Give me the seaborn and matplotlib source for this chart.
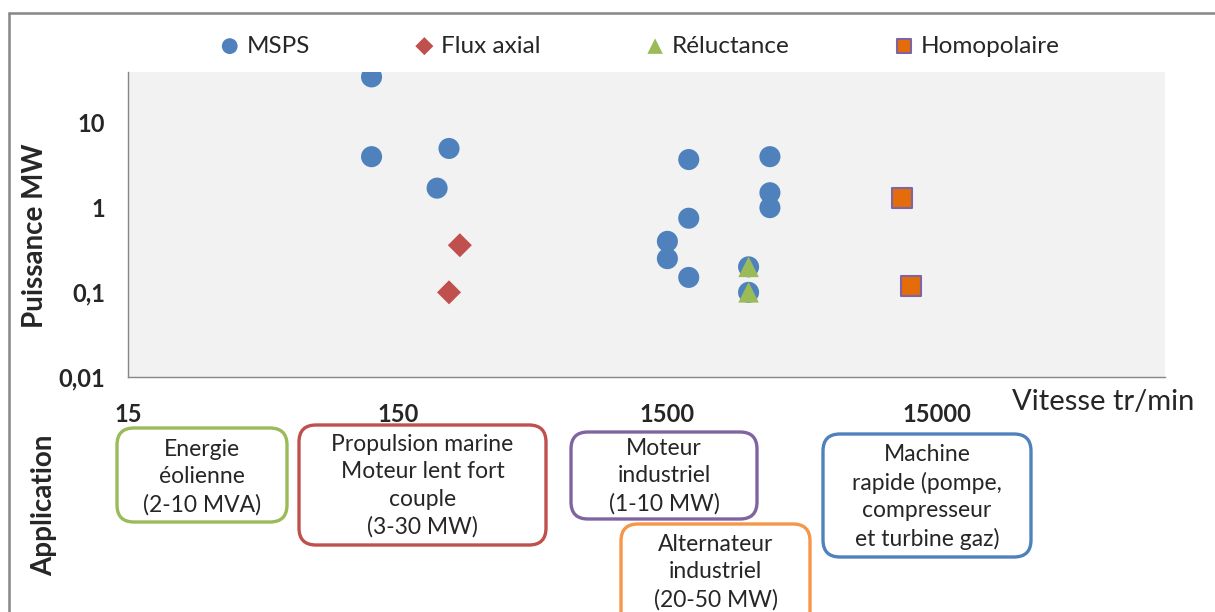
import matplotlib.pyplot as plt
import matplotlib.ticker as mticker
from matplotlib.patches import FancyBboxPatch
from matplotlib.lines import Line2D
import seaborn as sns

# Valeurs (vitesse tr/min, puissance MW)
msps_v = [80, 80, 155, 140, 1200, 1200, 1000, 1000, 1200, 2400, 2400, 2400, 2000, 2000]
msps_p = [35, 4, 5, 1.7, 3.7, 0.75, 0.4, 0.25, 0.15, 4, 1.5, 1, 0.2, 0.1]
flux_v = [170, 155]
flux_p = [0.36, 0.1]
rel_v = [2000, 2000]
rel_p = [0.2, 0.1]
homo_v = [7400, 8000]
homo_p = [1.3, 0.12]

x_ticks = [10, 100, 1000, 10000]
x_labels = ['15', '150', '1500', '15000']
y_ticks = [0.01, 0.1, 1, 10]
y_labels = ['0,01', '0,1', '1', '10']

applications = ['Energie\néolienne\n(2-10 MVA)',
                'Propulsion marine\nMoteur lent fort\ncouple\n(3-30 MW)',
                'Moteur\nindustriel\n(1-10 MW)',
                'Alternateur\nindustriel\n(20-50 MW)',
                'Machine\nrapide (pompe,\ncompresseur\net turbine gaz)']
app_colors = ['#9BBB59', '#C0504D', '#8064A2', '#F79646', '#4F81BD']
# boîtes en pixels : gauche, haut, droite, bas, centre du texte
app_boxes = [(117, 428, 287, 522, 477),
             (299, 425, 546, 545, 486),
             (571, 432, 757, 519, 476),
             (621, 524, 810, 640, 572),
             (823, 434, 1031, 557, 497)]

sns.set_style('white')
plt.rcParams['font.family'] = ['Lato', 'DejaVu Sans']

W, H = 1215, 612
fig = plt.figure(figsize=(W / 100, H / 100), dpi=100)
ax = fig.add_axes([128 / W, 1 - 377 / H, (1165 - 128) / W, (377 - 72) / H])
ax.set_facecolor('#F2F2F2')

sns.scatterplot(x=msps_v, y=msps_p, ax=ax, marker='o', s=230, color='#4F81BD',
                edgecolor='none', label='MSPS', zorder=3)
sns.scatterplot(x=flux_v, y=flux_p, ax=ax, marker='D', s=150, color='#C0504D',
                edgecolor='none', label='Flux axial', zorder=3)
sns.scatterplot(x=rel_v, y=rel_p, ax=ax, marker='^', s=220, color='#9BBB59',
                edgecolor='none', label='Réluctance', zorder=4)
sns.scatterplot(x=homo_v, y=homo_p, ax=ax, marker='s', s=200, color='#E46C0A',
                edgecolor='#8064A2', linewidth=1.5, label='Homopolaire', zorder=3)

ax.set_xscale('log')
ax.set_yscale('log')
ax.set_xlim(10, 70000)
ax.set_ylim(0.01, 40)

ax.xaxis.set_major_locator(mticker.FixedLocator(x_ticks))
ax.xaxis.set_major_formatter(mticker.FixedFormatter(x_labels))
ax.yaxis.set_major_locator(mticker.FixedLocator(y_ticks))
ax.yaxis.set_major_formatter(mticker.FixedFormatter(y_labels))
ax.xaxis.set_minor_locator(mticker.LogLocator(base=10, subs=range(2, 10), numticks=20))
ax.yaxis.set_minor_locator(mticker.LogLocator(base=10, subs=range(2, 10), numticks=20))
ax.xaxis.set_minor_formatter(mticker.NullFormatter())
ax.yaxis.set_minor_formatter(mticker.NullFormatter())

ax.tick_params(axis='x', which='both', direction='in', length=6, width=1,
               color='#868686', pad=19, labelsize=17)
ax.tick_params(axis='y', which='major', direction='inout', length=11, width=1,
               color='#868686', pad=11, labelsize=17)
ax.tick_params(axis='y', which='minor', direction='in', length=5, width=1, color='#868686')
for lab in ax.get_xticklabels() + ax.get_yticklabels():
    lab.set_fontweight('bold')

sns.despine(ax=ax)
for side in ['left', 'bottom']:
    ax.spines[side].set_color('#868686')
    ax.spines[side].set_linewidth(1)
ax.set_xlabel('')
ax.set_ylabel('')

ax.legend_.remove()
handles, labels = ax.get_legend_handles_labels()
fig.legend(handles, labels, loc='center', bbox_to_anchor=(640 / W, 1 - 46 / H),
           ncol=4, frameon=False, fontsize=17.5, markerscale=0.75,
           handlelength=0.8, handletextpad=0.3, columnspacing=4.3)

fig.text(1012 / W, 1 - 402 / H, 'Vitesse tr/min', fontsize=21, ha='left', va='center')
fig.text(35 / W, 1 - 236 / H, 'Puissance MW', fontsize=20, fontweight='bold',
         rotation=90, ha='center', va='center')
fig.text(44 / W, 1 - 505 / H, 'Application', fontsize=20, fontweight='bold',
         rotation=90, ha='center', va='center')

# cadres des applications
for txt, col, (x0, y0, x1, y1, yc) in zip(applications, app_colors, app_boxes):
    box = FancyBboxPatch((x0 / 100, (H - y1) / 100), (x1 - x0) / 100, (y1 - y0) / 100,
                         boxstyle='round,pad=0,rounding_size=0.17',
                         transform=fig.dpi_scale_trans, facecolor='white',
                         edgecolor=col, linewidth=2.4)
    fig.patches.append(box)
    fig.text((x0 + x1) / 2 / W, 1 - yc / H, txt, fontsize=16.5, ha='center', va='center',
             multialignment='center', linespacing=1.38)

# bordure grise de la zone du graphique
fig.add_artist(Line2D([9 / W, 9 / W], [0, 1 - 13 / H], transform=fig.transFigure,
                      color='#868686', lw=1.8))
fig.add_artist(Line2D([9 / W, 1], [1 - 13 / H, 1 - 13 / H], transform=fig.transFigure,
                      color='#868686', lw=1.8))

fig.savefig('out.png', dpi=100, facecolor='white')
